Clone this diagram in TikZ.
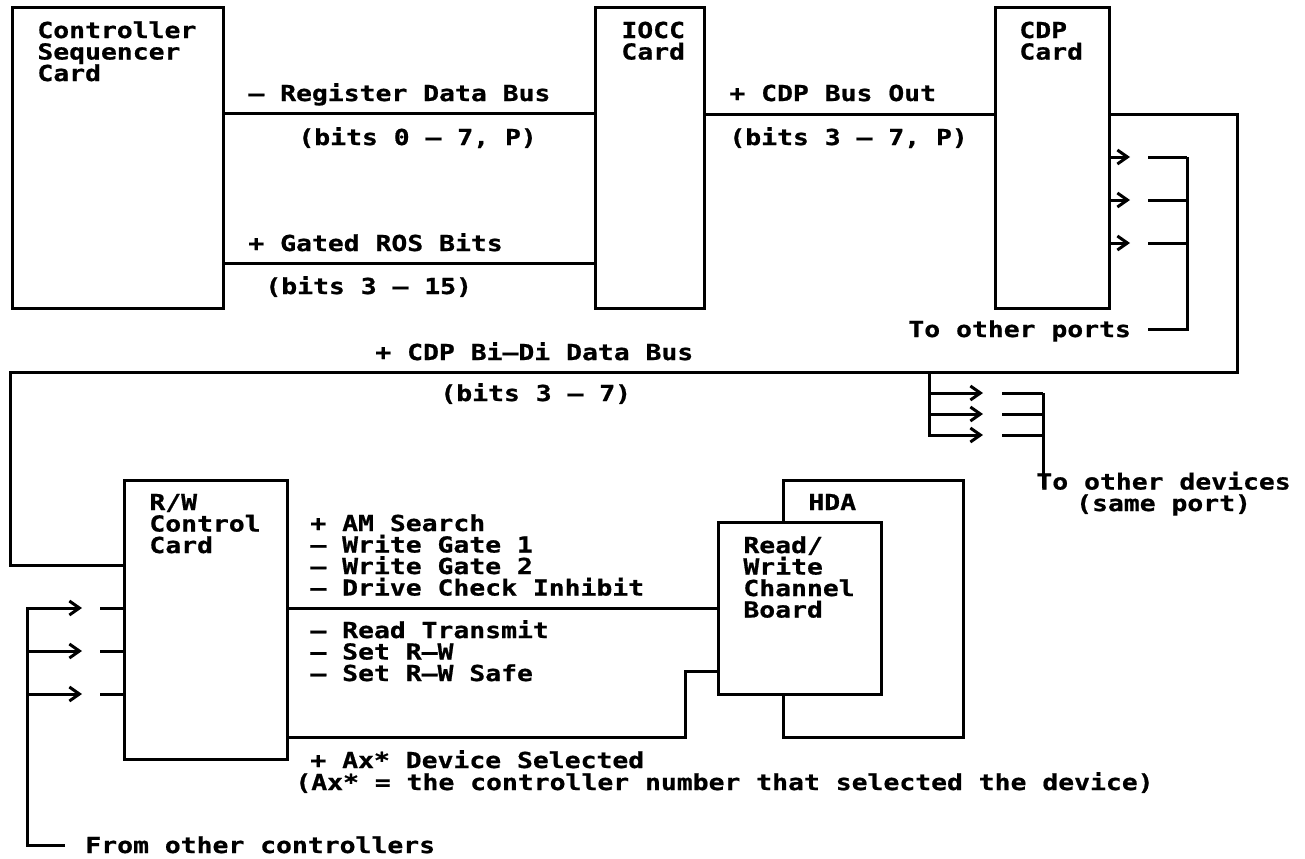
\documentclass[tikz,border=0pt]{standalone}
\usepackage{fontspec}
\newfontfamily\ibmfont{DejaVu Sans Mono}[FakeStretch=1.2, BoldFeatures={FakeBold=0.8}]
\usetikzlibrary{arrows.meta}

\begin{document}
\begin{tikzpicture}[
    x=0.5pt, y=-0.5pt,
    card/.style={draw, line width=1.5pt, fill=white, anchor=north west, inner sep=0pt},
    lbl/.style={font={\ibmfont\bfseries\fontsize{11}{10.75}\selectfont}, inner sep=0pt, anchor=base west, align=left},
    bus/.style={line width=1.5pt},
    port/.style={bus, -{Straight Barb[length=5pt, width=7pt]}}
]
    \useasboundingbox (0,0) rectangle (1305,858);

    % cards
    \node[card, minimum width=105.5pt, minimum height=150.5pt] (csc) at (11,6) {};
    \node[card, minimum width=54.5pt, minimum height=150.5pt] (iocc) at (594,6) {};
    \node[card, minimum width=57pt, minimum height=150.5pt] (cdp) at (994,6) {};
    \node[card, minimum width=81.5pt, minimum height=139.5pt] (rwc) at (123,479) {};
    \node[card, minimum width=90pt, minimum height=128.5pt] (hda) at (782,479) {};
    \node[card, minimum width=81.5pt, minimum height=86pt] (rwb) at (717,521) {};

    % card titles (base = last line)
    \node[lbl] (csc-t) at (37,81) {Controller\\Sequencer\\Card};
    \node[lbl] (iocc-t) at (621,59.5) {IOCC\\Card};
    \node[lbl] (cdp-t) at (1019,59.5) {CDP\\Card};
    \node[lbl] (rwc-t) at (149,553) {R/W\\Control\\Card};
    \node[lbl] (hda-t) at (808,510) {HDA};
    \node[lbl] (rwb-t) at (743,617.5) {Read/\\Write\\Channel\\Board};

    % bus labels
    \node[lbl] (rdb) at (248,101) {– Register Data Bus};
    \node[lbl] (rdb-b) at (298,145) {(bits 0 – 7, P)};
    \node[lbl] (ros) at (248,251) {+ Gated ROS Bits};
    \node[lbl] (ros-b) at (265,294) {(bits 3 – 15)};
    \node[lbl] (cbo) at (729,101) {+ CDP Bus Out};
    \node[lbl] (cbo-b) at (729,145) {(bits 3 – 7, P)};
    \node[lbl] (ports) at (908,337) {To other ports};
    \node[lbl] (bidi) at (375,360) {+ CDP Bi–Di Data Bus};
    \node[lbl] (bidi-b) at (440,401) {(bits 3 – 7)};
    \node[lbl, align=center] (devices) at (1036,511) {To other devices\\(same port)};
    \node[lbl] (rw-out) at (310,595.5) {+ AM Search\\– Write Gate 1\\– Write Gate 2\\– Drive Check Inhibit};
    \node[lbl] (rw-in) at (310,681) {– Read Transmit\\– Set R–W\\– Set R–W Safe};
    \node[lbl] (sel) at (310,768) {+ Ax* Device Selected};
    \node[lbl] (sel-n) at (295,790) {(Ax* = the controller number that selected the device)};
    \node[lbl] (ctrls) at (85,853) {From other controllers};

    % buses between cards
    \draw[bus] (csc.east |- 0,113) -- (iocc.west |- 0,113);
    \draw[bus] (csc.east |- 0,263) -- (iocc.west |- 0,263);
    \draw[bus] (iocc.east |- 0,114) -- (cdp.west |- 0,114);
    \coordinate (bd-ne) at (1237,372);
    \coordinate (bd-nw) at (10,372);
    \draw[bus] (cdp.east |- 0,114) -| (bd-ne) -- (bd-nw) |- (rwc.west |- 0,565);

    % CDP ports
    \foreach \y [count=\i] in {157,200,243} {
        \coordinate (cp-tip-\i) at (1130,\y);
        \coordinate (cp-stub-\i) at (1148,\y);
        \coordinate (cp-bar-\i) at (1187,\y);
        \draw[port] (cdp.east |- cp-tip-\i) -- (cp-tip-\i);
        \draw[bus] (cp-stub-\i) -- (cp-bar-\i);
    }
    \coordinate (cp-end) at (1148,329);
    \draw[bus] (cp-bar-1) |- (cp-end);

    % other devices on the Bi-Di bus
    \coordinate (dv-top) at (929,372);
    \foreach \y [count=\i] in {393,414,435} {
        \coordinate (dv-tip-\i) at (983,\y);
        \coordinate (dv-stub-\i) at (1002,\y);
        \coordinate (dv-bar-\i) at (1043,\y);
        \draw[bus] (dv-stub-\i) -- (dv-bar-\i);
    }
    \draw[port] (dv-top) |- (dv-tip-3);
    \draw[port] (dv-top |- dv-tip-1) -- (dv-tip-1);
    \draw[port] (dv-top |- dv-tip-2) -- (dv-tip-2);
    \coordinate (dv-end) at (1043,488);
    \draw[bus] (dv-bar-1) -- (dv-end);

    % other controllers
    \coordinate (fc-end) at (65,845);
    \coordinate (rc-spine) at (27,608);
    \foreach \y [count=\i] in {608,651,694} {
        \coordinate (rc-tip-\i) at (82,\y);
        \coordinate (rc-stub-\i) at (100,\y);
        \draw[bus] (rc-stub-\i) -- (rwc.west |- rc-stub-\i);
    }
    \draw[port] (fc-end) -| (rc-spine) -- (rc-tip-1);
    \draw[port] (rc-spine |- rc-tip-2) -- (rc-tip-2);
    \draw[port] (rc-spine |- rc-tip-3) -- (rc-tip-3);

    % R/W control to channel board
    \draw[bus] (rwc.east |- 0,608) -- (rwb.west |- 0,608);
    \coordinate (sel-bend) at (685,737);
    \draw[bus] (rwc.east |- sel-bend) -- (sel-bend) |- (rwb.west |- 0,671);
\end{tikzpicture}
\end{document}
